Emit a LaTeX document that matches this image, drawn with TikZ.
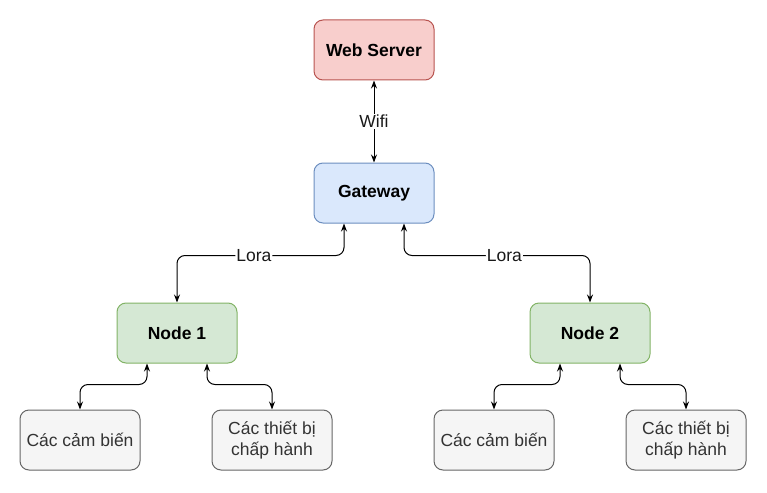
\documentclass[tikz,border=0pt]{standalone}
\usepackage{fontspec}
\setmainfont{Liberation Sans}
\usetikzlibrary{arrows.meta}
\definecolor{server-fill}{HTML}{F8CECC}
\definecolor{server-line}{HTML}{B85450}
\definecolor{gateway-fill}{HTML}{DAE8FC}
\definecolor{gateway-line}{HTML}{6C8EBF}
\definecolor{node-fill}{HTML}{D5E8D4}
\definecolor{node-line}{HTML}{82B366}
\definecolor{device-fill}{HTML}{F5F5F5}
\definecolor{device-line}{HTML}{666666}
\definecolor{device-text}{HTML}{333333}

\begin{document}
\begin{tikzpicture}[x=1pt, y=-1pt,
    box/.style={draw, line width=1pt, rounded corners=9pt, minimum width=120pt, minimum height=60pt, align=center, font=\fontsize{17.5}{21}\selectfont},
    server/.style={box, fill=server-fill, draw=server-line, font=\fontsize{17.5}{21}\selectfont\bfseries},
    gateway/.style={box, fill=gateway-fill, draw=gateway-line, font=\fontsize{17.5}{21}\selectfont\bfseries},
    endnode/.style={box, fill=node-fill, draw=node-line, font=\fontsize{17.5}{21}\selectfont\bfseries},
    device/.style={box, fill=device-fill, draw=device-line, text=device-text},
    link/.style={line width=1pt, rounded corners=8pt, {Stealth[length=8pt,width=6pt]}-{Stealth[length=8pt,width=6pt]}},
    lbl/.style={fill=white, inner sep=1pt, text=black!90, font=\fontsize{17.5}{21}\selectfont}]
  \useasboundingbox (0, 0) rectangle (767, 492);
  \node[server] (web) at (374, 50) {Web Server};
  \node[gateway] (gw) at (374, 193) {Gateway};
  \node[endnode] (n1) at (177, 333) {Node 1};
  \node[endnode] (n2) at (590, 333) {Node 2};
  \node[device] (sens1) at (80, 440) {Các cảm biến};
  \node[device] (act1) at (272, 440) {Các thiết bị\\chấp hành};
  \node[device] (sens2) at (494, 440) {Các cảm biến};
  \node[device] (act2) at (686, 440) {Các thiết bị\\chấp hành};
  \draw[link] (web) -- node[lbl] {Wifi} (gw);
  \draw[link] ([xshift=-30pt]gw.south) -- ++(0, 32) -| node[lbl, pos=0.27] {Lora} (n1.north);
  \draw[link] ([xshift=30pt]gw.south) -- ++(0, 32) -| node[lbl, pos=0.27] {Lora} (n2.north);
  \draw[link] ([xshift=-30pt]n1.south) -- ++(0, 21) -| (sens1.north);
  \draw[link] ([xshift=30pt]n1.south) -- ++(0, 21) -| (act1.north);
  \draw[link] ([xshift=-30pt]n2.south) -- ++(0, 21) -| (sens2.north);
  \draw[link] ([xshift=30pt]n2.south) -- ++(0, 21) -| (act2.north);
\end{tikzpicture}
\end{document}
